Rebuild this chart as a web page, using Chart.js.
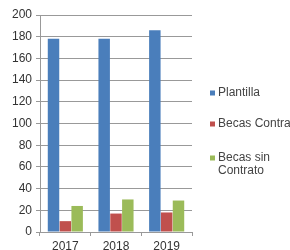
<!DOCTYPE html>
<html lang="es">
<head>
<meta charset="UTF-8">
<title>Plantilla y Becas</title>
<script src="https://cdn.jsdelivr.net/npm/chart.js"></script>
<style>
    body { margin: 0; padding: 0; background: #fff; }
    #wrap { width: 290px; height: 250px; position: relative; }
</style>
</head>
<body>
<div id="wrap"><canvas id="chart" width="290" height="250"></canvas></div>
<script>
    // Datos
    const years = ['2017', '2018', '2019'];
    const plantilla = [178, 178, 186];
    const becasContrato = [10, 17, 18];
    const becasSinContrato = [24, 30, 29];
    const seriesNames = ['Plantilla', 'Becas Contrato', 'Becas sin Contrato'];
    const legendLines = [['Plantilla'], ['Becas Contrato'], ['Becas sin', 'Contrato']];
    const yTicks = [0, 20, 40, 60, 80, 100, 120, 140, 160, 180, 200];

    const colors = ['#4a7ebb', '#c0504d', '#9bbb59'];
    const font = { family: 'Liberation Sans, Arial, sans-serif', size: 12 };

    // Leyenda a la derecha, como en Excel
    const sideLegend = {
        id: 'sideLegend',
        afterDraw(chart) {
            const ctx = chart.ctx;
            const rows = [93, 124, 158];
            ctx.save();
            ctx.font = font.size + 'px ' + font.family;
            ctx.textBaseline = 'middle';
            chart.data.datasets.forEach((ds, i) => {
                const y = rows[i];
                ctx.fillStyle = ds.backgroundColor;
                ctx.fillRect(210, y - 2.5, 5, 5);
                ctx.fillStyle = '#444';
                legendLines[i].forEach((line, j) => {
                    ctx.fillText(line, 218, y + j * 13);
                });
            });
            ctx.restore();
        }
    };

    new Chart(document.getElementById('chart').getContext('2d'), {
        type: 'bar',
        data: {
            labels: years,
            datasets: [plantilla, becasContrato, becasSinContrato].map((d, i) => ({
                label: seriesNames[i],
                data: d,
                backgroundColor: colors[i],
                borderWidth: 0,
                barPercentage: 0.97,
                categoryPercentage: 0.7
            }))
        },
        options: {
            responsive: false,
            animation: false,
            layout: { padding: { left: 0, right: 98, top: 15, bottom: 0 } },
            plugins: { legend: { display: false }, tooltip: { enabled: false } },
            scales: {
                x: {
                    afterFit(scale) { scale.height = 18; },
                    grid: { display: true, drawOnChartArea: false, drawTicks: true, tickLength: 4, color: '#999', offset: true },
                    border: { color: '#999' },
                    ticks: { color: '#333', font: font, padding: 3 }
                },
                y: {
                    min: 0,
                    max: 200,
                    afterFit(scale) { scale.width = 40; },
                    afterBuildTicks(scale) { scale.ticks = yTicks.map(v => ({ value: v })); },
                    grid: { color: '#999', tickLength: 4 },
                    border: { color: '#999' },
                    ticks: { color: '#333', font: font, padding: 4 }
                }
            }
        },
        plugins: [sideLegend]
    });
</script>
</body>
</html>
